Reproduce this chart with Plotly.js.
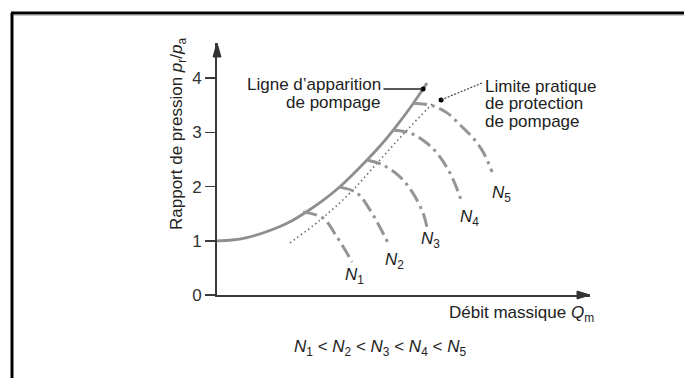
<!DOCTYPE html>
<html>
<head>
<meta charset="utf-8">
<script src="https://cdn.plot.ly/plotly-3.0.1.min.js"></script>
<style>
html,body{margin:0;padding:0;background:#fff;}
#chart{width:684px;height:378px;}
</style>
</head>
<body>
<div id="chart"></div>
<script>
// Surge line (ligne d'apparition de pompage)
const surgeX = [0, 0.5, 1.0, 1.5, 2.0, 2.5, 3.0, 3.5, 4.0, 4.5, 5.0, 5.5, 6.0, 6.5, 7.0];
const surgeY = [1.0, 1.015, 1.06, 1.14, 1.24, 1.37, 1.54, 1.73, 1.95, 2.21, 2.49, 2.79, 3.13, 3.5, 3.91];
// Practical surge protection limit
const limitX = [2.43, 3.43, 4.43, 5.43, 6.33, 7.2];
const limitY = [0.96, 1.38, 1.88, 2.49, 3.04, 3.54];
// Speed lines N1..N5
const n1X = [2.87, 3.53, 4.0, 4.33, 4.5];
const n1Y = [1.53, 1.42, 1.07, 0.775, 0.61];
const n2X = [4.1, 4.67, 5.1, 5.43, 5.7];
const n2Y = [1.99, 1.88, 1.57, 1.25, 0.96];
const n3X = [5.0, 5.53, 6.1, 6.53, 6.87, 7.0];
const n3Y = [2.49, 2.40, 2.18, 1.88, 1.51, 1.25];
const n4X = [5.87, 6.43, 7.0, 7.43, 7.83, 8.17];
const n4Y = [3.04, 2.99, 2.80, 2.55, 2.18, 1.70];
const n5X = [6.53, 7.2, 7.67, 8.1, 8.53, 8.87, 9.17];
const n5Y = [3.54, 3.49, 3.36, 3.14, 2.90, 2.64, 2.27];
// Labels
const speedNames = ['1', '2', '3', '4', '5'];
const speedLabelX = [4.57, 5.93, 7.13, 8.4, 9.47];
const speedLabelY = [0.35, 0.63, 1.01, 1.42, 1.87];
const yTickVals = [0, 1, 2, 3, 4];
const yTickText = ['0', '1', '2', '3', '4'];
// marker points
const surgeDot = [6.87, 3.80];
const limitDot = [7.47, 3.60];

const FONT = 'Liberation Sans, Arial, Helvetica, sans-serif';
const grey = '#8e8e8e';
const speedDash = '14px,5px,3px,5px';

const speedSets = [[n1X, n1Y], [n2X, n2Y], [n3X, n3Y], [n4X, n4Y], [n5X, n5Y]];
const traces = [
  {x: surgeX, y: surgeY, mode: 'lines', line: {color: grey, width: 2.8, shape: 'spline', smoothing: 0.8}, hoverinfo: 'skip'},
  {x: limitX, y: limitY, mode: 'lines', line: {color: '#6a6a6a', width: 1.6, dash: '1.5px,3px', shape: 'spline'}, hoverinfo: 'skip'}
];
speedSets.forEach(s => traces.push({x: s[0], y: s[1], mode: 'lines',
  line: {color: '#959595', width: 3, dash: speedDash, shape: 'spline'}, hoverinfo: 'skip'}));
traces.push({x: [surgeDot[0], limitDot[0]], y: [surgeDot[1], limitDot[1]], mode: 'markers',
  marker: {color: '#000', size: 5}, hoverinfo: 'skip', cliponaxis: false});

// geometry helpers (plot area: 217..590 px wide, 43..295 px tall)
const L = 217, R = 590, T = 43, B = 295;
const px = v => (v - L) / (R - L);
const py = v => (B - v) / (B - T);

const annotations = [];
speedNames.forEach((n, i) => annotations.push({
  x: speedLabelX[i], y: speedLabelY[i], xref: 'x', yref: 'y', showarrow: false,
  xanchor: 'center', yanchor: 'middle',
  text: '<i>N</i><sub>' + n + '</sub>', font: {family: FONT, size: 17, color: '#222'}
}));
const txt = (t, x, y, xa, xr, yr) => ({text: t, x: x, y: y, xref: xr || 'x', yref: yr || 'y', xanchor: xa,
  yanchor: 'middle', showarrow: false, font: {family: FONT, size: 17, color: '#222'}});
annotations.push(txt('Ligne d\u2019apparition', 5.53, 3.875, 'right'));
annotations.push(txt('de pompage', 5.53, 3.56, 'right'));
annotations.push(txt('Limite pratique', 8.87, 3.856, 'left'));
annotations.push(txt('de protection', 8.87, 3.542, 'left'));
annotations.push(txt('de pompage', 8.87, 3.21, 'left'));
annotations.push(txt('Débit massique <i>Q</i><sub>m</sub>', px(447), py(314), 'left', 'paper', 'paper'));
annotations.push(txt('<i>N</i><sub>1</sub> &lt; <i>N</i><sub>2</sub> &lt; <i>N</i><sub>3</sub> &lt; <i>N</i><sub>4</sub> &lt; <i>N</i><sub>5</sub>',
  px(380), py(348), 'center', 'paper', 'paper'));
annotations.push({text: 'Rapport de pression <i>p</i><sub>r</sub>/<i>p</i><sub>a</sub>', x: px(178), y: py(134),
  xref: 'paper', yref: 'paper', xanchor: 'center', yanchor: 'middle', textangle: -90, showarrow: false,
  font: {family: FONT, size: 17, color: '#222'}});

const shapes = [
  // leader lines
  {type: 'line', xref: 'x', yref: 'y', x0: 5.55, y0: surgeDot[1], x1: surgeDot[0], y1: surgeDot[1], line: {color: '#222', width: 1.4}},
  {type: 'line', xref: 'x', yref: 'y', x0: 8.83, y0: 3.91, x1: limitDot[0], y1: limitDot[1], line: {color: '#333', width: 1.1, dash: '2px,1.5px'}},
  // axis arrows
  {type: 'path', xref: 'paper', yref: 'paper', path: 'M ' + (-4 / 373) + ' ' + py(57) + ' L 0 1 L ' + (4 / 373) + ' ' + py(57) + ' Z',
    fillcolor: '#333', line: {color: '#333', width: 1}},
  {type: 'path', xref: 'paper', yref: 'paper', path: 'M ' + px(577) + ' ' + (4 / 252) + ' L 1 0 L ' + px(577) + ' ' + (-4 / 252) + ' Z',
    fillcolor: '#333', line: {color: '#333', width: 1}},
  // frame
  {type: 'line', xref: 'paper', yref: 'paper', x0: px(12), y0: py(400), x1: px(12), y1: py(13), line: {color: '#000', width: 3}},
  {type: 'line', xref: 'paper', yref: 'paper', x0: px(11), y0: py(13), x1: px(700), y1: py(13), line: {color: '#000', width: 3}},
  {type: 'line', xref: 'paper', yref: 'paper', x0: px(14), y0: py(15.5), x1: px(700), y1: py(15.5), line: {color: '#c8c8c8', width: 1}}
];

const layout = {
  width: 684, height: 378,
  margin: {l: L, r: 684 - R, t: T, b: 378 - B, pad: 0},
  paper_bgcolor: '#fff', plot_bgcolor: '#fff',
  showlegend: false,
  xaxis: {range: [0, (R - L) / 30], showgrid: false, zeroline: false, showline: true, linecolor: '#3a3a3a', linewidth: 2,
    showticklabels: false, ticks: '', fixedrange: true},
  yaxis: {range: [0, (B - T) / 54.2], showgrid: false, zeroline: false, showline: true, linecolor: '#3a3a3a', linewidth: 2,
    tickvals: yTickVals, ticktext: yTickText, ticks: 'outside', ticklen: 10, tickwidth: 1.5, tickcolor: '#3a3a3a',
    tickfont: {family: FONT, size: 17, color: '#333'}, fixedrange: true},
  annotations: annotations,
  shapes: shapes
};

Plotly.newPlot('chart', traces, layout, {staticPlot: true, displayModeBar: false});
</script>
</body>
</html>
